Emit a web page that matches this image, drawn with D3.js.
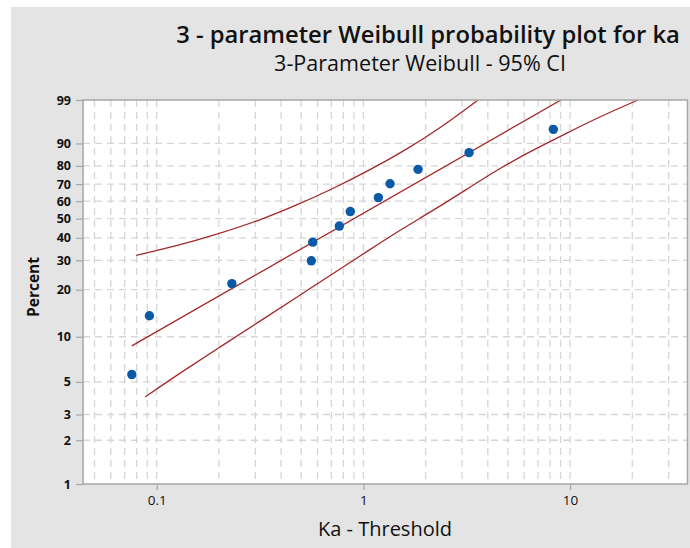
<!DOCTYPE html>
<html>
<head>
<meta charset="utf-8">
<script src="https://cdn.jsdelivr.net/npm/d3@7"></script>
<style>
  html, body { margin: 0; padding: 0; background: #ffffff; }
  svg { display: block; }
  text { font-family: "Open Sans", "Noto Sans", sans-serif; fill: #111; }
</style>
</head>
<body>
<svg id="chart" width="690" height="548"></svg>
<script>
// Observed values (Ka minus threshold) and their plotting percents
const kaValues = [0.0758, 0.0922, 0.231, 0.560, 0.569, 0.765, 0.864, 1.182, 1.346, 1.839, 3.246, 8.30];
const percents = [5.6, 13.7, 21.8, 29.8, 37.9, 46.0, 54.0, 62.1, 70.2, 78.2, 86.3, 94.4];

// Fitted 3-parameter Weibull line (end points)
const fitX   = [0.0758, 9.04];
const fitPct = [8.7, 99];

// 95% confidence bands
const upperX   = [0.0795, 0.1298, 0.1875, 0.3094, 0.4777, 0.690, 1.077, 1.627, 2.350, 3.588];
const upperPct = [32.0, 36.6, 41.1, 48.7, 57.8, 66.5, 77.8, 87.8, 94.7, 99.0];
const lowerX   = [0.0879, 0.1298, 0.2026, 0.3164, 0.4777, 0.690, 1.077, 1.505, 2.174, 3.176, 4.585, 6.622, 9.67, 13.97, 21.33];
const lowerPct = [3.95, 5.74, 8.56, 12.66, 18.01, 24.42, 34.54, 43.92, 54.6, 67.14, 78.9, 87.43, 93.41, 97.09, 99.0];

// Axis ticks
const pctTicks = [1, 2, 3, 5, 10, 20, 30, 40, 50, 60, 70, 80, 90, 99];
const xTicks = [0.1, 1, 10];

const titleText = "3 - parameter Weibull probability plot for ka";
const subtitleText = "3-Parameter Weibull - 95% CI";
const xLabel = "Ka - Threshold";
const yLabel = "Percent";

const W = 690, H = 548;
const plot = { left: 83, top: 100, right: 687.5, bottom: 484 };

const svg = d3.select("#chart");

// Weibull probability transform
const weib = p => Math.log(-Math.log(1 - p / 100));

const x = d3.scaleLog().domain([0.044, 37]).range([plot.left, plot.right]);
const yLin = d3.scaleLinear().domain([weib(1), weib(99)]).range([plot.bottom, plot.top]);
const y = p => yLin(weib(p));

// Scale a label's font so that it spans the given width
function fitWidth(sel, width) {
  const fs = parseFloat(sel.attr("font-size"));
  const w = sel.node().getComputedTextLength();
  sel.attr("font-size", (fs * width / w).toFixed(2));
  return sel;
}

// Outer panel
svg.append("rect").attr("x", 11).attr("y", 7).attr("width", W - 11).attr("height", H - 7)
  .attr("fill", "#e4e4e4");

// Plot area
svg.append("rect")
  .attr("x", plot.left).attr("y", plot.top)
  .attr("width", plot.right - plot.left).attr("height", plot.bottom - plot.top)
  .attr("fill", "#ffffff");

svg.append("clipPath").attr("id", "plotClip").append("rect")
  .attr("x", plot.left).attr("y", plot.top)
  .attr("width", plot.right - plot.left).attr("height", plot.bottom - plot.top);

// Grid
const grid = svg.append("g").attr("stroke", "#d6d6d6").attr("stroke-width", 1.3)
  .attr("stroke-dasharray", "7,5");
grid.selectAll("line.v").data(x.ticks()).join("line").attr("class", "v")
  .attr("x1", d => x(d)).attr("x2", d => x(d))
  .attr("y1", plot.top).attr("y2", plot.bottom);
grid.selectAll("line.h").data(pctTicks.slice(1, -1)).join("line").attr("class", "h")
  .attr("x1", plot.left).attr("x2", plot.right)
  .attr("y1", d => y(d)).attr("y2", d => y(d));

// Fitted line and confidence bands
const bandGen = d3.line().x(d => x(d[0])).y(d => y(d[1])).curve(d3.curveBasis);
const curves = svg.append("g").attr("clip-path", "url(#plotClip)")
  .attr("fill", "none").attr("stroke", "#a3282a").attr("stroke-width", 1.3);
curves.append("path").attr("d", bandGen(d3.zip(upperX, upperPct)));
curves.append("path").attr("d", d3.line().x(d => x(d[0])).y(d => y(d[1]))(d3.zip(fitX, fitPct)));
curves.append("path").attr("d", bandGen(d3.zip(lowerX, lowerPct)));

// Data points
svg.append("g").selectAll("circle").data(d3.zip(kaValues, percents)).join("circle")
  .attr("cx", d => x(d[0])).attr("cy", d => y(d[1])).attr("r", 4.7)
  .attr("fill", "#0a5aa8");

// Frame
svg.append("rect")
  .attr("x", plot.left).attr("y", plot.top)
  .attr("width", plot.right - plot.left).attr("height", plot.bottom - plot.top)
  .attr("fill", "none").attr("stroke", "#a6a6a6").attr("stroke-width", 1.5);

// Axes
const yAxis = svg.append("g").attr("transform", `translate(${plot.left},0)`)
  .call(d3.axisLeft(yLin).tickValues(pctTicks.map(weib)).tickFormat((d, i) => pctTicks[i])
    .tickSize(7).tickPadding(5));
yAxis.select(".domain").remove();
yAxis.selectAll(".tick line").attr("stroke", "#a6a6a6").attr("stroke-width", 1.2);
yAxis.selectAll(".tick text").attr("font-size", 12.5).attr("font-weight", "bold")
  .attr("fill", "#222").style("font-family", "'Open Sans', sans-serif");

const xAxis = svg.append("g").attr("transform", `translate(0,${plot.bottom})`)
  .call(d3.axisBottom(x).tickValues(xTicks).tickFormat(d3.format("~g")).tickSize(6).tickPadding(5));
xAxis.select(".domain").remove();
xAxis.selectAll(".tick line").attr("stroke", "#a6a6a6").attr("stroke-width", 1.2);
xAxis.selectAll(".tick text").attr("font-size", 13.5).attr("fill", "#222")
  .style("font-family", "'Open Sans', sans-serif");

// Titles
fitWidth(svg.append("text").attr("x", 428).attr("y", 43).attr("text-anchor", "middle")
  .attr("font-size", 20).attr("font-weight", 600).text(titleText), 504);
fitWidth(svg.append("text").attr("x", 420).attr("y", 71).attr("text-anchor", "middle")
  .attr("font-size", 15).text(subtitleText), 292);
fitWidth(svg.append("text").attr("x", 385).attr("y", 536).attr("text-anchor", "middle")
  .attr("font-size", 16).text(xLabel), 134);
fitWidth(svg.append("text").attr("transform", "translate(39,287) rotate(-90)").attr("text-anchor", "middle")
  .attr("font-size", 15).attr("font-weight", "bold").text(yLabel), 60);
</script>
</body>
</html>
